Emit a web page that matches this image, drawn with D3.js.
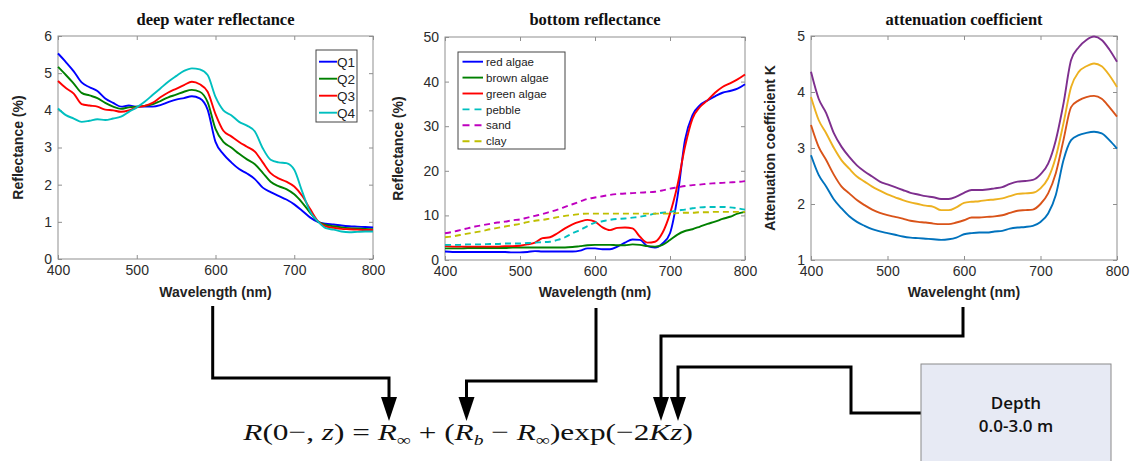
<!DOCTYPE html>
<html><head><meta charset="utf-8">
<script src="https://cdn.jsdelivr.net/npm/d3@7"></script>
<style>body{margin:0;background:#fff}svg{display:block}</style>
</head><body>
<svg id="c" width="1136" height="461"></svg>
<script>
// ---------- DATA ----------
const wavelengths = d3.range(400, 801, 10);
const xTicks = [400, 500, 600, 700, 800];

// deep water reflectance (%)
const deepSeries = ["Q1", "Q2", "Q3", "Q4"];
const deepQ1 = [5.53,5.3,5.05,4.75,4.62,4.52,4.32,4.2,4.1,4.13,4.1,4.1,4.1,4.14,4.22,4.29,4.33,4.38,4.32,4.02,3.15,2.82,2.6,2.42,2.3,2.15,1.92,1.8,1.7,1.6,1.47,1.3,1.12,1.0,0.95,0.93,0.9,0.88,0.87,0.86,0.85];
const deepQ2 = [5.17,4.95,4.72,4.47,4.4,4.33,4.2,4.1,4.04,4.08,4.1,4.12,4.16,4.25,4.35,4.42,4.5,4.55,4.5,4.22,3.5,3.15,3.0,2.83,2.68,2.55,2.32,2.08,1.96,1.88,1.74,1.52,1.25,1.01,0.92,0.88,0.85,0.83,0.82,0.81,0.8];
const deepQ3 = [4.79,4.6,4.45,4.17,4.13,4.1,4.02,4.0,3.96,4.0,4.08,4.12,4.2,4.35,4.48,4.58,4.68,4.77,4.7,4.5,3.9,3.45,3.3,3.15,3.02,2.89,2.6,2.31,2.17,2.08,1.95,1.7,1.35,1.02,0.88,0.84,0.81,0.8,0.79,0.78,0.78];
const deepQ4 = [4.05,3.87,3.78,3.69,3.72,3.76,3.74,3.78,3.83,3.96,4.08,4.23,4.41,4.59,4.77,4.92,5.06,5.13,5.1,4.95,4.36,4.0,3.87,3.69,3.59,3.43,2.98,2.67,2.6,2.58,2.4,1.82,1.28,1.01,0.83,0.79,0.74,0.72,0.73,0.74,0.74];
const deepTicks = [0,1,2,3,4,5,6];

// bottom reflectance (%)
const bottomSeries = ["red algae", "brown algae", "green algae", "pebble", "sand", "clay"];
const redAlgae = [1.9,1.8,1.8,1.8,1.8,1.8,1.8,1.8,1.8,1.7,1.7,1.8,2.0,1.9,1.9,1.9,1.9,1.9,2.1,2.6,2.6,2.4,2.4,3.0,3.9,4.6,4.5,3.1,2.8,3.7,6.0,14.2,26.9,32.5,34.7,35.8,36.7,37.5,37.9,38.4,39.4];
const brownAlgae = [2.6,2.6,2.6,2.7,2.7,2.7,2.7,2.7,2.7,2.8,2.8,2.8,2.8,2.8,2.8,2.8,2.8,2.9,3.1,3.3,3.4,3.4,3.4,3.3,3.3,3.5,3.4,3.1,3.0,3.4,4.5,5.7,6.5,6.9,7.5,8.1,8.6,9.2,9.7,10.4,10.8];
const greenAlgae = [3.1,3.0,3.0,3.0,3.0,3.0,3.0,3.0,3.1,3.1,3.2,3.5,3.9,4.9,5.1,6.0,7.1,8.0,8.6,9.0,8.6,7.3,6.7,7.2,7.3,7.1,5.2,3.9,4.1,6.1,10.4,16.8,25.4,31.7,34.3,35.8,37.5,38.8,39.6,40.5,41.6];
const pebble = [3.4,3.4,3.4,3.5,3.5,3.5,3.6,3.6,3.7,3.7,3.7,3.8,3.9,4.0,4.1,4.5,5.1,6.0,6.7,7.6,8.4,8.7,9.0,9.2,9.3,9.5,9.7,10.0,10.4,10.6,10.8,11.1,11.3,11.6,11.8,11.9,11.9,11.9,11.8,11.6,11.3];
const sand = [6.0,6.3,6.7,7.1,7.5,7.8,8.1,8.4,8.6,8.9,9.1,9.5,9.9,10.3,10.8,11.3,11.9,12.5,13.1,13.7,14.0,14.3,14.6,14.8,14.9,15.0,15.1,15.2,15.3,15.6,16.0,16.3,16.6,16.8,16.9,17.1,17.2,17.3,17.4,17.5,17.7];
const clay = [5.1,5.3,5.6,5.9,6.2,6.5,6.9,7.2,7.5,7.8,8.1,8.5,8.8,9.0,9.3,9.6,9.9,10.1,10.3,10.4,10.4,10.4,10.4,10.4,10.4,10.4,10.4,10.4,10.4,10.4,10.4,10.5,10.6,10.6,10.7,10.7,10.8,10.8,10.8,10.8,10.8];
const bottomTicks = [0,10,20,30,40,50];

// attenuation coefficient K (four curves)
const kBlue = [2.87,2.52,2.31,2.08,1.92,1.78,1.68,1.61,1.55,1.51,1.48,1.45,1.42,1.4,1.39,1.38,1.37,1.36,1.37,1.4,1.46,1.48,1.49,1.49,1.51,1.52,1.56,1.58,1.59,1.61,1.68,1.83,2.16,2.78,3.14,3.23,3.27,3.29,3.26,3.14,2.99];
const kOrange = [3.41,3.02,2.78,2.52,2.31,2.19,2.07,1.98,1.9,1.84,1.8,1.77,1.74,1.7,1.68,1.67,1.65,1.64,1.64,1.67,1.71,1.76,1.76,1.77,1.78,1.8,1.84,1.88,1.89,1.9,2.0,2.19,2.55,3.14,3.73,3.85,3.91,3.93,3.88,3.73,3.56];
const kYellow = [3.91,3.5,3.26,3.0,2.78,2.63,2.49,2.4,2.31,2.24,2.17,2.12,2.07,2.03,2.0,1.97,1.95,1.89,1.89,1.94,2.02,2.04,2.05,2.07,2.08,2.1,2.14,2.18,2.19,2.2,2.28,2.46,2.84,3.44,4.09,4.36,4.46,4.51,4.46,4.3,4.09];
const kPurple = [4.36,3.88,3.62,3.26,3.02,2.84,2.69,2.58,2.49,2.4,2.35,2.3,2.25,2.2,2.17,2.14,2.12,2.09,2.09,2.13,2.2,2.25,2.25,2.26,2.28,2.3,2.36,2.4,2.41,2.43,2.53,2.72,3.14,3.79,4.57,4.8,4.93,4.99,4.93,4.76,4.54];
const kTicks = [1,2,3,4,5];

const formulaParts = [
  ["R","i"],["(0−, ",""],["z","i"],[") = ",""],["R","i"],["∞","sub"],[" + (",""],["R","i"],["b","isub"],[" − ",""],["R","i"],["∞","sub"],[")exp(−2",""],["K","i"],["z","i"],[")",""]
];
const depthLines = ["Depth", "0.0-3.0 m"];

// ---------- DRAW ----------
const svg = d3.select("#c");
const AXC = "#8f8f8f", TXC = "#2b2b2b";

function panel(o) {
  const x = d3.scaleLinear().domain([400, 800]).range([o.x0, o.x1]);
  const y = d3.scaleLinear().domain(o.ydom).range([o.y1, o.y0]);
  const g = svg.append("g");
  const fmt = d => d;
  const ax = (gen, tr) => {
    const a = g.append("g").attr("transform", tr).call(gen);
    a.select(".domain").remove();
    a.selectAll("line").attr("stroke", AXC);
    a.selectAll("text").attr("fill", TXC).attr("font-family", "Liberation Sans, Arial, sans-serif").attr("font-size", 14);
    return a;
  };
  ax(d3.axisBottom(x).tickValues(xTicks).tickSize(-4).tickPadding(6).tickFormat(fmt), `translate(0,${o.y1})`);
  ax(d3.axisTop(x).tickValues(xTicks).tickSize(-4).tickFormat(""), `translate(0,${o.y0})`);
  ax(d3.axisLeft(y).tickValues(o.yticks).tickSize(-4).tickPadding(6).tickFormat(fmt), `translate(${o.x0},0)`);
  ax(d3.axisRight(y).tickValues(o.yticks).tickSize(-4).tickFormat(""), `translate(${o.x1},0)`);
  g.append("rect").attr("x", o.x0).attr("y", o.y0).attr("width", o.x1 - o.x0).attr("height", o.y1 - o.y0)
    .attr("fill", "none").attr("stroke", AXC).attr("stroke-width", 1);
  const line = d3.line().x((d, i) => x(wavelengths[i])).y(d => y(d)).curve(d3.curveMonotoneX);
  o.series.forEach(s => {
    g.append("path").attr("d", line(s.v)).attr("fill", "none").attr("stroke", s.c)
      .attr("stroke-width", 1.9).attr("stroke-dasharray", s.dash ? "6,4" : null);
  });
  g.append("text").attr("x", (o.x0 + o.x1) / 2).attr("y", 25).attr("text-anchor", "middle")
    .attr("font-family", "Liberation Serif, Times New Roman, serif").attr("font-weight", "bold").attr("font-size", 16.5)
    .attr("fill", "#111").text(o.title);
  g.append("text").attr("x", (o.x0 + o.x1) / 2).attr("y", 297).attr("text-anchor", "middle")
    .attr("font-family", "Liberation Sans, Arial, sans-serif").attr("font-weight", "bold").attr("font-size", 14)
    .attr("fill", "#222").text(o.xlabel);
  g.append("text").attr("transform", `translate(${o.ylx},${(o.y0 + o.y1) / 2}) rotate(-90)`).attr("text-anchor", "middle")
    .attr("font-family", "Liberation Sans, Arial, sans-serif").attr("font-weight", "bold").attr("font-size", 14)
    .attr("fill", "#222").text(o.ylabel);
  if (o.legend) {
    const L = o.legend;
    g.append("rect").attr("x", L.x).attr("y", L.y).attr("width", L.w).attr("height", L.h)
      .attr("fill", "#fff").attr("stroke", "#444").attr("stroke-width", 1);
    o.series.forEach((s, i) => {
      const yy = L.y + L.first + i * L.step;
      g.append("line").attr("x1", L.x + L.l0).attr("x2", L.x + L.l1).attr("y1", yy).attr("y2", yy)
        .attr("stroke", s.c).attr("stroke-width", 1.9).attr("stroke-dasharray", s.dash ? "7,5" : null);
      g.append("text").attr("x", L.x + L.tx).attr("y", yy).attr("dy", "0.36em")
        .attr("font-family", "Liberation Sans, Arial, sans-serif").attr("font-size", L.fs).attr("fill", "#222").text(s.name);
    });
  }
}

panel({
  x0: 58, x1: 373, y0: 36, y1: 259, ydom: [0, 6], yticks: deepTicks,
  title: "deep water reflectance", xlabel: "Wavelength (nm)", ylabel: "Reflectance (%)", ylx: 23,
  series: [
    {name: deepSeries[0], v: deepQ1, c: "#0000ff"},
    {name: deepSeries[1], v: deepQ2, c: "#008000"},
    {name: deepSeries[2], v: deepQ3, c: "#ff0000"},
    {name: deepSeries[3], v: deepQ4, c: "#00bfbf"}
  ],
  legend: {x: 316, y: 50, w: 41, h: 72, first: 11.7, step: 17, l0: 3, l1: 21, tx: 21, fs: 13.5}
});

panel({
  x0: 445, x1: 745, y0: 37, y1: 260, ydom: [0, 50], yticks: bottomTicks,
  title: "bottom reflectance", xlabel: "Wavelength (nm)", ylabel: "Reflectance (%)", ylx: 403,
  series: [
    {name: bottomSeries[0], v: redAlgae, c: "#0000ff"},
    {name: bottomSeries[1], v: brownAlgae, c: "#008000"},
    {name: bottomSeries[2], v: greenAlgae, c: "#ff0000"},
    {name: bottomSeries[3], v: pebble, c: "#00bfbf", dash: true},
    {name: bottomSeries[4], v: sand, c: "#bf00bf", dash: true},
    {name: bottomSeries[5], v: clay, c: "#bfbf00", dash: true}
  ],
  legend: {x: 458, y: 52, w: 107, h: 97, first: 9.7, step: 15.9, l0: 4.5, l1: 25, tx: 28, fs: 11.5}
});

panel({
  x0: 811, x1: 1117, y0: 36, y1: 260, ydom: [1, 5], yticks: kTicks,
  title: "attenuation coefficient", xlabel: "Wavelenght (nm)", ylabel: "Attenuation coefficient K", ylx: 775,
  series: [
    {name: "K1", v: kBlue, c: "#0072bd"},
    {name: "K2", v: kOrange, c: "#d95319"},
    {name: "K3", v: kYellow, c: "#edb120"},
    {name: "K4", v: kPurple, c: "#7e2f8e"}
  ]
});

// ---------- connectors ----------
const conn = svg.append("g").attr("fill", "none").attr("stroke", "#000").attr("stroke-width", 3);
const paths = [
  {pts: [[212.7,306],[212.7,378],[389,378],[389,398]]},
  {pts: [[596,308],[596,381],[466.5,381],[466.5,398]]},
  {pts: [[963,307],[963,336],[661,336],[661,398]]},
  {pts: [[921.5,413],[851,413],[851,367],[678,367],[678,398]]}
];
paths.forEach(p => {
  conn.append("path").attr("d", d3.line()(p.pts)).attr("stroke-linejoin", "miter");
  const [tx] = p.pts[p.pts.length - 1];
  svg.append("path").attr("d", d3.line()([[tx - 8, 397], [tx + 8, 397], [tx, 421]]) + "Z").attr("fill", "#000");
});

// depth box
svg.append("rect").attr("x", 921).attr("y", 364).attr("width", 190).attr("height", 110)
  .attr("fill", "#e7eaf4").attr("stroke", "#8a8a8a").attr("stroke-width", 1);
depthLines.forEach((t, i) => {
  svg.append("text").attr("x", 1016).attr("y", 409 + i * 23).attr("text-anchor", "middle")
    .attr("font-family", "Open Sans, Liberation Sans, sans-serif").attr("font-weight", 600).attr("font-size", 17)
    .attr("fill", "#111").text(t);
});

// formula
const ft = svg.append("text").attr("x", 0).attr("y", 0)
  .attr("font-family", "Liberation Serif, Times New Roman, serif").attr("font-size", 24).attr("fill", "#111");
formulaParts.forEach(([t, s], i) => {
  const prev = i > 0 ? formulaParts[i - 1][1] : "";
  const isSub = s === "sub" || s === "isub";
  const prevSub = prev === "sub" || prev === "isub";
  const sp = ft.append("tspan").text(t).attr("dy", isSub && !prevSub ? 5 : (!isSub && prevSub ? -5 : 0));
  if (s === "i" || s === "isub") sp.attr("font-style", "italic");
  if (isSub) sp.attr("font-size", 15);
});
const bb = ft.node().getBBox();
const targetW = 451, sx = targetW / bb.width;
ft.attr("transform", `translate(${242 - bb.x * sx},440) scale(${sx},1)`);
</script>
</body></html>
